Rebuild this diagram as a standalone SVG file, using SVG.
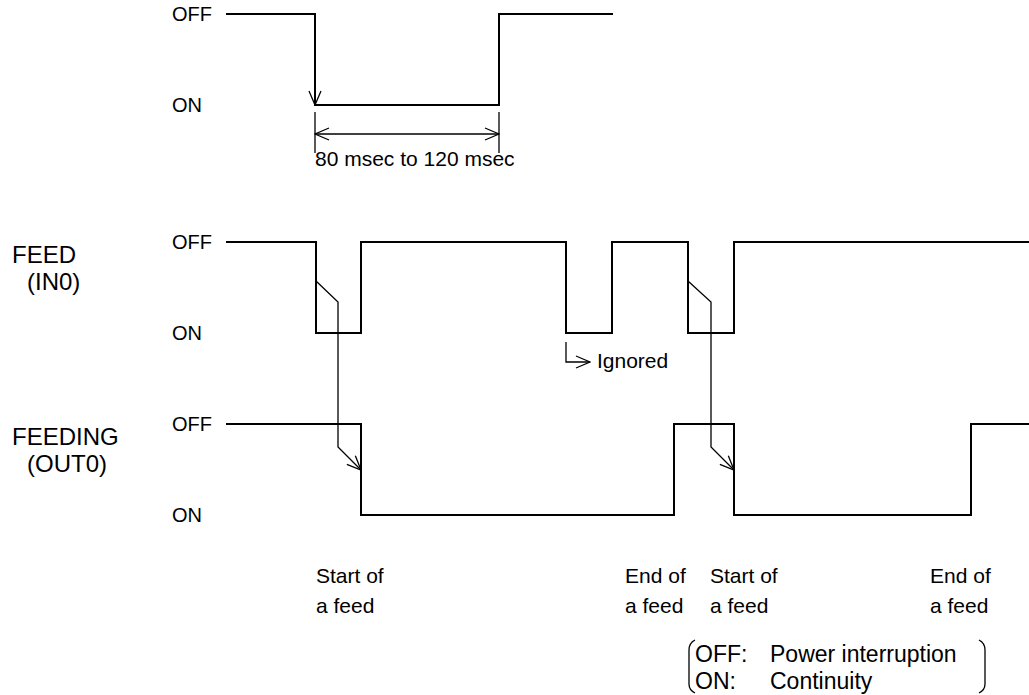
<svg xmlns="http://www.w3.org/2000/svg" width="1029" height="695" viewBox="0 0 1029 695">
<defs>
<marker id="open" markerUnits="userSpaceOnUse" markerWidth="16" markerHeight="14" refX="15" refY="7" orient="auto">
<path d="M1,1 L15,7 L1,13" fill="none" stroke="#000" stroke-width="1.3"/>
</marker>
<marker id="openStart" markerUnits="userSpaceOnUse" markerWidth="16" markerHeight="14" refX="15" refY="7" orient="auto-start-reverse">
<path d="M1,1 L15,7 L1,13" fill="none" stroke="#000" stroke-width="1.3"/>
</marker>
<style>
.wave{fill:none;stroke:#000;stroke-width:2}
.thin{fill:none;stroke:#000;stroke-width:1.3}
text{font-family:"Liberation Sans",Arial,sans-serif;fill:#000}
.lv{font-size:20px}
.lb{font-size:21px}
.sig{font-size:24px}
.lg{font-size:23px}
</style>
</defs>
<rect width="1029" height="695" fill="#fff"/>
<g id="waveforms">
<path class="wave" d="M226,14 H315 V105 H499 V14 H613"/>
<path class="wave" d="M226,242 H316 V333 H361 V242 H566 V333 H612 V242 H688 V333 H734 V242 H1029"/>
<path class="wave" d="M226,424 H361 V515 H674 V424 H734 V515 H971 V424 H1029"/>
</g>
<g id="connectors">
<path class="thin" d="M315,90 L315,105" marker-end="url(#open)"/>
<path class="thin" d="M315,112 V153 M499,112 V153"/>
<path class="thin" d="M315,134 H499" marker-start="url(#openStart)" marker-end="url(#open)"/>
<path class="thin" d="M316,281 L338,302 L338,447 L361,470" marker-end="url(#open)"/>
<path class="thin" d="M688,281 L711,302 L711,447 L734,470" marker-end="url(#open)"/>
<path class="thin" d="M566,342 V362 H590" marker-end="url(#open)"/>
</g>
<g id="top-labels">
<text class="lv" x="172" y="21">OFF</text>
<text class="lv" x="172" y="112">ON</text>
<text class="lb" x="315" y="166">80 msec to 120 msec</text>
</g>
<g id="feed">
<text class="sig" x="12" y="263">FEED</text>
<text class="sig" x="27" y="290">(IN0)</text>
<text class="lv" x="172" y="249">OFF</text>
<text class="lv" x="172" y="340">ON</text>
<text class="lb" x="597" y="368">Ignored</text>
</g>
<g id="feeding">
<text class="sig" x="12" y="445">FEEDING</text>
<text class="sig" x="27" y="472">(OUT0)</text>
<text class="lv" x="172" y="431">OFF</text>
<text class="lv" x="172" y="522">ON</text>
</g>
<g id="events">
<text class="lb" x="316" y="583">Start of</text>
<text class="lb" x="316" y="613">a feed</text>
<text class="lb" x="625" y="583">End of</text>
<text class="lb" x="625" y="613">a feed</text>
<text class="lb" x="710" y="583">Start of</text>
<text class="lb" x="710" y="613">a feed</text>
<text class="lb" x="930" y="583">End of</text>
<text class="lb" x="930" y="613">a feed</text>
</g>
<g id="legend">
<path class="thin" d="M695,640 Q689,643 689,650 V684 Q689,690 695,693"/>
<path class="thin" d="M979,640 Q985,643 985,650 V684 Q985,690 979,693"/>
<text class="lg" x="695" y="662">OFF:</text>
<text class="lg" x="770" y="662">Power interruption</text>
<text class="lg" x="695" y="689">ON:</text>
<text class="lg" x="770" y="689">Continuity</text>
</g>
</svg>
